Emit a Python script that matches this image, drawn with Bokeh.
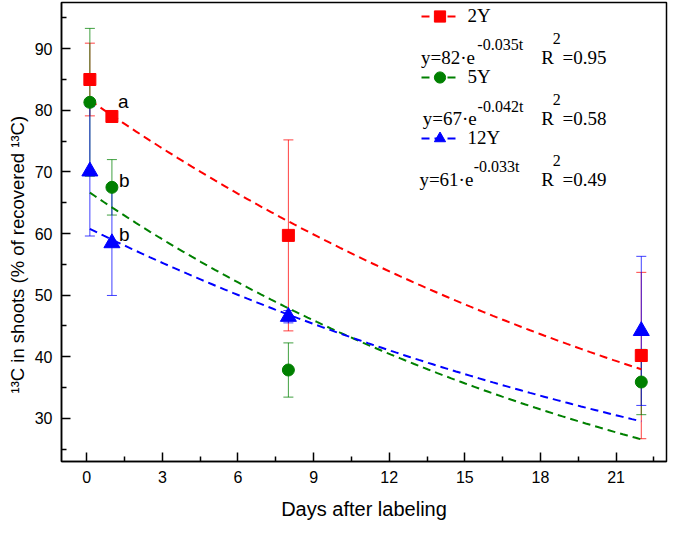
import numpy as np
from bokeh.plotting import figure
from bokeh.models import (ColumnDataSource, Whisker, TeeHead, FixedTicker, Legend,
                          LegendItem, Label, Title, Range1d)
from bokeh.core.properties import value
from bokeh.embed import file_html
from bokeh.resources import INLINE

# ---------------- data ----------------
days = [0.125, 1, 8, 22]
series_names = ["2Y", "5Y", "12Y"]
y_2y = [85.0, 79.0, 59.7, 40.2]
err_2y = [5.9, 0.8, 15.5, 13.5]
y_5y = [81.3, 67.5, 37.85, 35.9]
err_5y = [12.0, 4.5, 4.4, 5.3]
y_12y = [70.1, 58.45, 46.5, 44.2]
err_12y = [10.5, 8.5, 1.0, 12.1]
fit_a = [82, 67, 61]
fit_k = [0.035, 0.042, 0.033]
fit_r2 = ["0.95", "0.58", "0.49"]
letters = ["a", "b", "b"]          # significance letters at day 1
x_ticks = [0, 3, 6, 9, 12, 15, 18, 21]
x_minor = [1.5, 4.5, 7.5, 10.5, 13.5, 16.5, 19.5, 22.5]
y_ticks = [30, 40, 50, 60, 70, 80, 90]
y_minor = [25, 35, 45, 55, 65, 75, 85, 95]
x_title = "Days after labeling"
y_title = "\u00b9\u00b3C in shoots (% of recovered \u00b9\u00b3C)"

colors = ["#ff0000", "#008000", "#0000ff"]
markers = ["square", "circle", "triangle"]
msizes = [12, 12, 16]
values = [y_2y, y_5y, y_12y]
errors = [err_2y, err_5y, err_12y]

SANS = "Liberation Sans"
SERIF = "Liberation Serif"

FW, FH = 608, 464      # frame size in px
p = figure(width=669, height=522, output_backend="svg", toolbar_location=None,
           x_range=Range1d(-1, 23), y_range=Range1d(23, 97.5),
           min_border_left=58, min_border_right=3, min_border_top=2, min_border_bottom=56)
p.grid.visible = False
p.outline_line_color = "black"
p.outline_line_width = 1.5
p.background_fill_color = "white"

for ax in (p.xaxis[0], p.yaxis[0]):
    ax.axis_line_width = 1.5
    ax.axis_line_color = "black"
    ax.major_tick_in = 9
    ax.major_tick_out = 0
    ax.minor_tick_in = 5
    ax.minor_tick_out = 0
    ax.major_tick_line_width = 1.5
    ax.minor_tick_line_width = 1.5
    ax.major_tick_line_color = "black"
    ax.minor_tick_line_color = "black"
    ax.major_label_text_font = SANS
    ax.major_label_text_font_size = "16px"
    ax.major_label_text_color = "black"
    ax.major_label_standoff = 9

p.xaxis.ticker = FixedTicker(ticks=x_ticks, minor_ticks=x_minor)
p.yaxis.ticker = FixedTicker(ticks=y_ticks, minor_ticks=y_minor)
p.xaxis.axis_label = x_title
p.xaxis.axis_label_text_font = SANS
p.xaxis.axis_label_text_font_size = "20px"
p.xaxis.axis_label_text_font_style = "normal"
p.xaxis.axis_label_text_color = "black"
p.xaxis.axis_label_standoff = 12

# y axis title: a side-panel title, shifted down as in the reference
p.add_layout(Title(text=y_title, align="left", offset=68, vertical_align="bottom",
                   standoff=8, text_font=SANS, text_font_size="18.5px",
                   text_font_style="normal", text_color="black"), "left")

# fit curves
t = np.linspace(days[0], days[-1], 120)
line_renderers = []
for a, k, c in zip(fit_a, fit_k, colors):
    r = p.line(t, a * np.exp(-k * t), line_color=c, line_width=2, line_dash="8 5")
    line_renderers.append(r)

# error bars
for vals, errs, c in zip(values, errors, colors):
    src = ColumnDataSource(dict(x=days,
                                upper=[v + e for v, e in zip(vals, errs)],
                                lower=[v - e for v, e in zip(vals, errs)]))
    w = Whisker(source=src, base="x", upper="upper", lower="lower",
                line_color=c, line_width=1, line_alpha=0.75,
                upper_head=TeeHead(size=10, line_color=c, line_width=1, line_alpha=0.75),
                lower_head=TeeHead(size=10, line_color=c, line_width=1, line_alpha=0.75))
    p.add_layout(w)

# markers
marker_renderers = []
for vals, c, m, s in zip(values, colors, markers, msizes):
    r = p.scatter(days, vals, marker=m, size=s, fill_color=c, line_color=c, line_width=1)
    marker_renderers.append(r)

# significance letters
p.text(x=[days[1]] * 3, y=[y_2y[1], y_5y[1], y_12y[1]], text=letters,
       x_offset=[6, 7, 7], y_offset=[-15, -7, -9],
       text_font=value(SANS), text_font_size="19px", text_color="black",
       text_baseline="middle", text_align="left")

# ---- positions from the reference pixel layout, mapped onto this frame ----
def frame_xy(X, Y):
    """reference page px -> screen px relative to this frame's bottom-left"""
    return (X - 65.7) * FW / 616.0, (474.0 - Y) * FH / 472.3

items = [LegendItem(label=n, renderers=[lr, mr])
         for n, lr, mr in zip(series_names, line_renderers, marker_renderers)]
lx, _ = frame_xy(430, 0)
_, ltop = frame_xy(0, 20.7 - 14)
legend = Legend(items=items, location=(lx, ltop - (3 * 28 + 2 * 33)), orientation="vertical",
                spacing=33, padding=0, margin=0, glyph_width=37, glyph_height=28,
                label_height=28, label_standoff=10, border_line_alpha=0,
                background_fill_alpha=0, label_text_font=SERIF,
                label_text_font_size="19px", label_text_color="black")
p.add_layout(legend)

eq_rows = [(430, 62.7, 487, 50.0, 43.3), (431.7, 125, 487.3, 112.3, 106),
           (428.3, 186.7, 483.3, 174, 167.7)]
for (mx, my, sx, sy, r2y), a, k, r2 in zip(eq_rows, fit_a, fit_k, fit_r2):
    pieces = [(f"y={a}\u00b7e", mx, my, "19px"),
              (f"-{k:.3f}t", sx, sy, "16px"),
              ("R", 551.7, my, "19px"),
              ("2", 563.3, r2y, "16px"),
              (f"={r2}", 573.3, my, "19px")]
    for txt, X, Y, fs in pieces:
        x, y = frame_xy(X, Y)
        p.add_layout(Label(x=x, y=y, x_units="screen", y_units="screen", text=txt,
                           text_font=SERIF, text_font_size=fs, text_color="black",
                           text_baseline="alphabetic", text_align="left"))

open("out.html", "w").write(file_html(p, INLINE))
